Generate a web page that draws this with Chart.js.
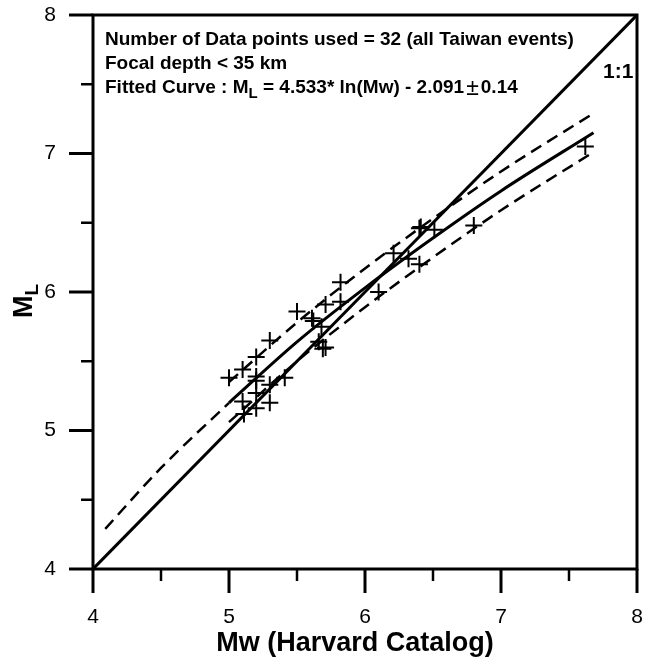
<!DOCTYPE html>
<html>
<head>
<meta charset="utf-8">
<script src="https://cdn.jsdelivr.net/npm/chart.js@4.4.1/dist/chart.umd.min.js"></script>
<style>
  html, body { margin: 0; padding: 0; background: #fff; }
  canvas { display: block; }
</style>
</head>
<body>
<canvas id="mlChart" width="649" height="658"></canvas>
<script>
// Taiwan events: Mw (Harvard) vs ML
const eventMw = [5.00, 5.10, 5.20, 5.30, 5.20, 5.20, 5.30, 5.41, 5.10, 5.20, 5.30, 5.11,
                 5.82, 5.82, 5.71, 5.50, 5.61, 5.62, 5.68, 5.69, 5.66, 6.10,
                 6.40, 6.51, 6.21, 6.32, 6.40, 6.80, 7.62, 5.20, 5.71, 6.41];
const eventMl = [5.38, 5.44, 5.53, 5.65, 5.39, 5.27, 5.33, 5.38, 5.21, 5.16, 5.20, 5.12,
                 6.07, 5.93, 5.91, 5.86, 5.81, 5.79, 5.75, 5.59, 5.64, 6.00,
                 6.46, 6.45, 6.28, 6.24, 6.20, 6.48, 7.05, 5.36, 5.60, 6.47];

// fitted curve read along its length, solid over data range
const fitMw = [5.00, 5.50, 6.00, 6.50, 7.00, 7.68];
const fitMl = [5.20, 5.64, 6.03, 6.39, 6.73, 7.15];
const upperMl = [5.35, 5.78, 6.17, 6.53, 6.87, 7.29];
const lowerMl = [5.06, 5.50, 5.89, 6.25, 6.59, 7.01];

// dashed extension of the curve below Mw 5
const extMw = [4.09, 4.50, 5.00];
const extMl = [4.29, 4.73, 5.20];

const oneToOne = [4, 8];

const majorTicks = [4, 5, 6, 7, 8];
const minorTicks = [4.5, 5.5, 6.5, 7.5];

const noteLines = [
  'Number of Data points used = 32 (all Taiwan events)',
  'Focal depth < 35 km'
];

const toXY = (xs, ys) => xs.map((x, i) => ({ x: x, y: ys[i] }));

const FONT = '"Liberation Sans", Arial, sans-serif';

const decorations = {
  id: 'decorations',
  afterDatasetsDraw(chart) {
    const ctx = chart.ctx;
    const { left, right, top, bottom } = chart.chartArea;
    const xs = chart.scales.x, ys = chart.scales.y;
    ctx.save();
    ctx.strokeStyle = '#000';
    ctx.fillStyle = '#000';

    // frame
    ctx.lineWidth = 3;
    ctx.strokeRect(left, top, right - left, bottom - top);

    // ticks, outside
    const tick = (v, len) => {
      const px = xs.getPixelForValue(v);
      ctx.beginPath(); ctx.moveTo(px, bottom); ctx.lineTo(px, bottom + len); ctx.stroke();
      const py = ys.getPixelForValue(v);
      ctx.beginPath(); ctx.moveTo(left, py); ctx.lineTo(left - len, py); ctx.stroke();
    };
    ctx.lineWidth = 3;
    majorTicks.forEach(v => tick(v, 24));
    ctx.lineWidth = 2.5;
    minorTicks.forEach(v => tick(v, 12));

    // note text
    ctx.textBaseline = 'alphabetic';
    ctx.textAlign = 'left';
    const big = 'bold 19px ' + FONT;
    const tx = left + 12;
    ctx.font = big;
    ctx.fillText(noteLines[0], tx, 45);
    ctx.fillText(noteLines[1], tx, 69);
    let cx = tx;
    const part = (s, y, f) => { ctx.font = f; ctx.fillText(s, cx, y); cx += ctx.measureText(s).width; };
    part('Fitted Curve : M', 93, big);
    part('L', 98, 'bold 15px ' + FONT);
    part(' = 4.533* ln(Mw) - 2.091', 93, big);
    cx += 2;
    part('\u00B1', 95, '23px ' + FONT);
    cx += 2;
    part('0.14', 93, big);

    // 1:1 label
    ctx.font = 'bold 21px ' + FONT;
    ctx.fillText('1:1', 603, 78);

    // x title
    ctx.textAlign = 'center';
    ctx.font = 'bold 27px ' + FONT;
    ctx.fillText('Mw (Harvard Catalog)', 355, 651);

    // y title, rotated
    ctx.save();
    ctx.translate(32, 318);
    ctx.rotate(-Math.PI / 2);
    ctx.textAlign = 'left';
    ctx.font = 'bold 27px ' + FONT;
    ctx.fillText('M', 0, 0);
    const mw = ctx.measureText('M').width;
    ctx.font = 'bold 19px ' + FONT;
    ctx.fillText('L', mw, 6);
    ctx.restore();

    ctx.restore();
  }
};

const lineSet = (data, width, dash) => ({
  data: data,
  showLine: true,
  borderColor: '#000',
  borderWidth: width,
  borderDash: dash,
  pointRadius: 0,
  fill: false,
  cubicInterpolationMode: 'monotone'
});

new Chart(document.getElementById('mlChart'), {
  type: 'scatter',
  data: {
    datasets: [
      {
        data: toXY(eventMw, eventMl),
        pointStyle: 'cross',
        pointRadius: 8.5,
        borderColor: '#000',
        borderWidth: 2,
        showLine: false
      },
      lineSet(toXY(oneToOne, oneToOne), 3, []),
      lineSet(toXY(fitMw, fitMl), 3, []),
      lineSet(toXY(extMw, extMl), 2.5, [12, 7]),
      lineSet(toXY(fitMw, upperMl), 2.5, [12, 7]),
      lineSet(toXY(fitMw, lowerMl), 2.5, [12, 7])
    ]
  },
  plugins: [decorations],
  options: {
    responsive: false,
    animation: false,
    devicePixelRatio: 1,
    layout: { padding: { top: 15, right: 12, left: 0, bottom: 0 } },
    plugins: {
      legend: { display: false },
      tooltip: { enabled: false }
    },
    scales: {
      x: {
        type: 'linear',
        min: 4, max: 8,
        grid: { display: false, drawTicks: false },
        border: { display: false },
        ticks: { stepSize: 1, padding: 36, color: '#000', font: { family: FONT, size: 21 } },
        afterFit: s => { s.height = 89; s.paddingLeft = 0; s.paddingRight = 0; }
      },
      y: {
        type: 'linear',
        min: 4, max: 8,
        grid: { display: false, drawTicks: false },
        border: { display: false },
        ticks: { stepSize: 1, padding: 37, color: '#000', font: { family: FONT, size: 21 } },
        afterFit: s => { s.width = 93; s.paddingTop = 0; s.paddingBottom = 0; }
      }
    }
  }
});
</script>
</body>
</html>
